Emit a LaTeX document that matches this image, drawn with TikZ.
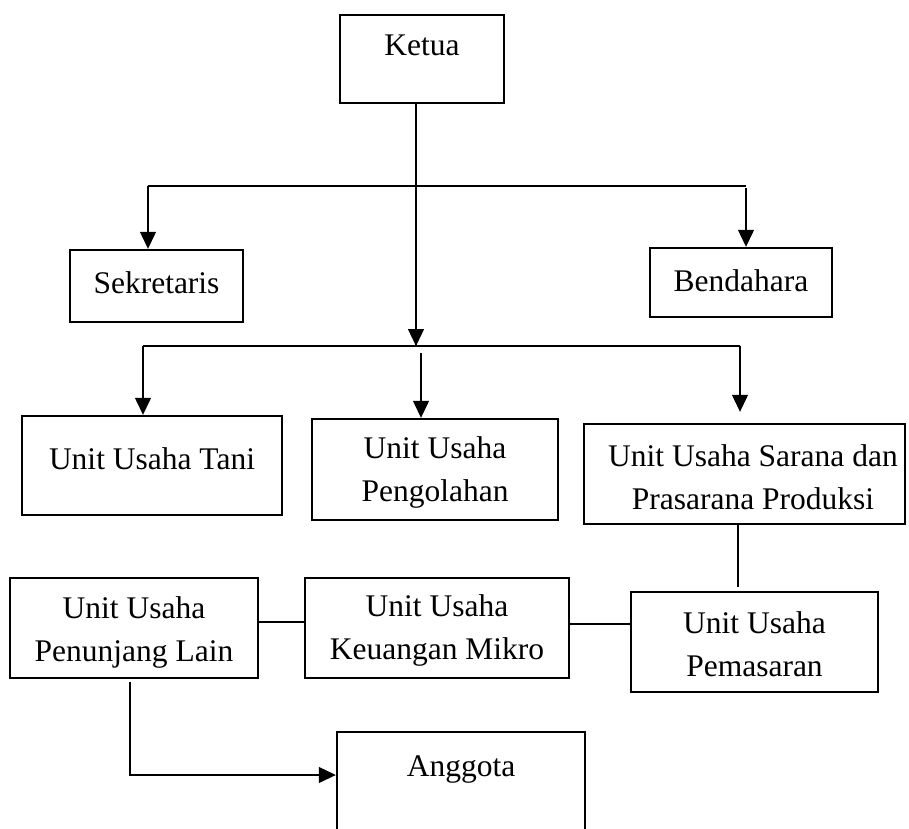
\documentclass[tikz,border=0pt]{standalone}
\usepackage{fontspec}
\setmainfont{Liberation Serif}
\usetikzlibrary{arrows.meta}
\begin{document}
\begin{tikzpicture}[x=1pt,y=-1pt,
  box/.style={draw,line width=2.4pt,rectangle,inner sep=0pt},
  lbl/.style={align=center,inner sep=0pt,font=\fontsize{31.5}{43}\selectfont},
  conn/.style={line width=1.2pt},
  arr/.style={line width=1.2pt,-{Triangle[length=17pt,width=16pt]}}]
\useasboundingbox (0,0) rectangle (909,828);
% boxes
\node[box,minimum width=164pt,minimum height=88pt] (ketua) at (422,59) {};
\node[lbl] (tketua) at (422,45) {Ketua};
\node[box,minimum width=173pt,minimum height=72pt] (sek) at (156.5,286) {};
\node[lbl] (tsek) at (156.5,283) {Sekretaris};
\node[box,minimum width=182pt,minimum height=69pt] (ben) at (741,282.5) {};
\node[lbl] (tben) at (741,281) {Bendahara};
\node[box,minimum width=260pt,minimum height=99pt] (tani) at (152,465.5) {};
\node[lbl] (ttani) at (152,459) {Unit Usaha Tani};
\node[box,minimum width=246pt,minimum height=101pt] (peng) at (435,469.5) {};
\node[lbl] (tpeng) at (435,472) {Unit Usaha\\Pengolahan};
\node[box,minimum width=321pt,minimum height=100pt] (sar) at (744.5,474) {};
\node[lbl] (tsar) at (753,477) {Unit Usaha Sarana dan\\Prasarana Produksi};
\node[box,minimum width=248pt,minimum height=100pt] (pen) at (134,628) {};
\node[lbl] (tpen) at (134,632) {Unit Usaha\\Penunjang Lain};
\node[box,minimum width=264pt,minimum height=100pt] (keu) at (437,628) {};
\node[lbl] (tkeu) at (437,630) {Unit Usaha\\Keuangan Mikro};
\node[box,minimum width=247pt,minimum height=100pt] (pem) at (754.5,642) {};
\node[lbl] (tpem) at (754.5,644) {Unit Usaha\\Pemasaran};
\node[box,minimum width=248pt,minimum height=140pt] (ang) at (461,802) {};
\node[lbl] (tang) at (461,769) {Anggota};
% coordinates
\coordinate (kx) at (416,346);
\coordinate (b1L) at (148,186);
\coordinate (b1R) at (746,186);
\coordinate (b2L) at (143,346);
\coordinate (b2R) at (740,346);
\coordinate (p0) at (421,353);
\coordinate (sp) at (738,587);
\coordinate (yA) at (0,622);
\coordinate (yB) at (0,624);
\coordinate (pd) at (130,682);
\coordinate (yC) at (0,775);
% connectors
\draw[conn] (ketua.south -| kx) -- (kx);
\draw[arr] (kx |- 0,330) -- (kx);
\draw[conn] (b1L) -- (b1R);
\draw[arr] (b1L) -- (b1L |- sek.north);
\draw[arr] (b1R |- 0,188) -- (b1R |- ben.north);
\draw[conn] (b2L) -- (b2R);
\draw[arr] (b2L) -- (b2L |- tani.north);
\draw[arr] (p0) -- (p0 |- peng.north);
\draw[arr,shorten >=11pt] (b2R) -- (b2R |- sar.north);
\draw[conn] (sar.south -| sp) -- (sp);
\draw[conn] (pen.east |- yA) -- (keu.west |- yA);
\draw[conn] (keu.east |- yB) -- (pem.west |- yB);
\draw[arr] (pd) -- (pd |- yC) -- (ang.west |- yC);
\end{tikzpicture}
\end{document}
